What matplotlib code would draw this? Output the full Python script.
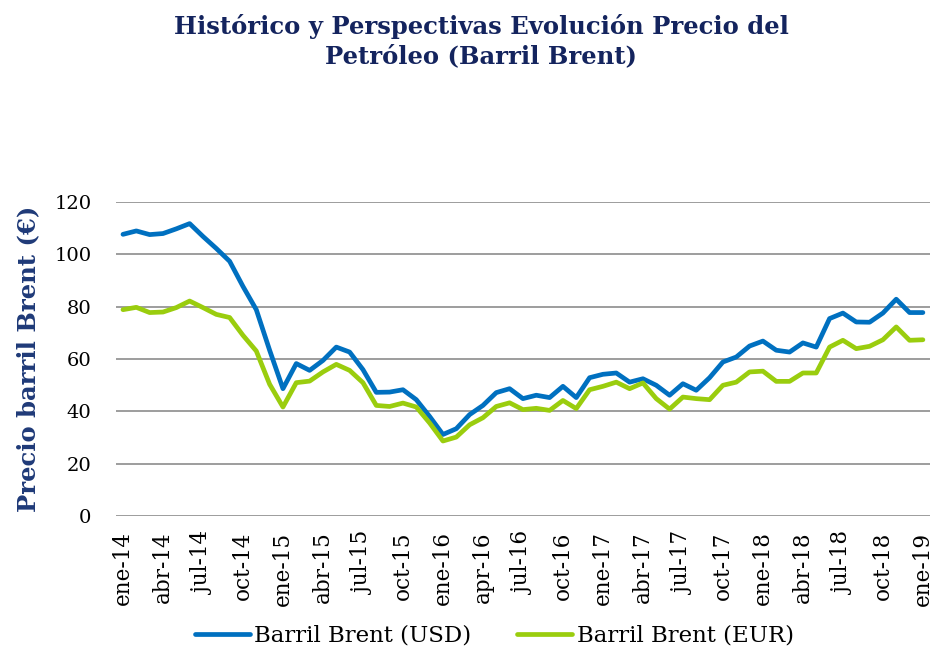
import matplotlib
matplotlib.use("Agg")
import matplotlib.pyplot as plt

# monthly values ene-14 .. ene-19 (61 months)
brent_usd = [107.7, 109.0, 107.6, 108.0, 109.8, 111.8, 106.9, 102.3, 97.4, 87.8, 78.9, 63.4,
             48.7, 58.3, 55.7, 59.5, 64.6, 62.7, 56.0, 47.3, 47.4, 48.3, 44.5, 38.1,
             31.2, 33.4, 38.8, 42.3, 47.2, 48.7, 44.9, 46.2, 45.3, 49.6, 45.3, 52.9,
             54.2, 54.7, 51.2, 52.5, 50.0, 46.2, 50.6, 48.1, 52.9, 58.9, 60.8, 65.0,
             66.9, 63.4, 62.7, 66.2, 64.6, 75.5, 77.6, 74.2, 74.1, 77.6, 82.9, 77.8,
             77.8]
brent_eur = [78.9, 79.8, 77.8, 78.0, 79.7, 82.2, 79.7, 77.1, 75.9, 69.1, 63.1, 50.4,
             41.7, 51.0, 51.6, 55.1, 58.0, 55.7, 51.0, 42.3, 41.9, 43.2, 41.7, 35.6,
             28.7, 30.2, 34.9, 37.6, 41.9, 43.3, 40.7, 41.2, 40.4, 44.2, 41.1, 48.3,
             49.6, 51.2, 48.7, 50.9, 44.9, 40.9, 45.5, 44.9, 44.5, 50.0, 51.2, 55.1,
             55.4, 51.5, 51.5, 54.7, 54.7, 64.6, 67.2, 64.0, 64.9, 67.4, 72.3, 67.2,
             67.4]
tick_labels = ["ene-14", "abr-14", "jul-14", "oct-14", "ene-15", "abr-15", "jul-15",
               "oct-15", "ene-16", "apr-16", "jul-16", "oct-16", "ene-17", "abr-17",
               "jul-17", "oct-17", "ene-18", "abr-18", "jul-18", "oct-18", "ene-19"]

BLUE = "#0070C0"
GREEN = "#9ACD0E"
NAVY = "#14245E"
YLABEL_COLOR = "#1F3A78"

plt.rcParams["font.family"] = ["DejaVu Serif"]

fig = plt.figure(figsize=(9.38, 6.5), dpi=100)
ax = fig.add_axes([0.124, 0.206, 0.867, 0.483])

months = range(len(brent_usd))
ax.plot(months, brent_usd, color=BLUE, lw=3.4, label="Barril Brent (USD)", solid_capstyle="round")
ax.plot(months, brent_eur, color=GREEN, lw=3.4, label="Barril Brent (EUR)", solid_capstyle="round")

ax.set_xlim(-0.5, len(brent_usd) - 0.5)
ax.set_ylim(0, 120)
ax.set_yticks(range(0, 121, 20))
ax.set_xticks(range(0, len(brent_usd), 3))
ax.set_xticklabels(tick_labels, rotation=90)
ax.tick_params(axis="y", length=0, pad=18, labelsize=14)
ax.tick_params(axis="x", length=0, pad=11, labelsize=15.5)
ax.yaxis.grid(True, color="#8C8C8C", lw=1.2)
ax.set_axisbelow(True)
for s in ax.spines.values():
    s.set_visible(False)

fig.text(0.03, 0.448, "Precio barril Brent (€)", rotation=90, ha="center", va="center",
         fontsize=17.5, fontweight="bold", color=YLABEL_COLOR)
fig.text(0.513, 0.937, "Histórico y Perspectivas Evolución Precio del\nPetróleo (Barril Brent)",
         ha="center", va="center", fontsize=17.5, fontweight="bold", color=NAVY, linespacing=1.3)

fig.legend(loc="center", bbox_to_anchor=(0.527, 0.022), ncol=2, frameon=False, fontsize=16.5,
           handlelength=2.4, handletextpad=0.2, columnspacing=2.0)

fig.savefig("out.png", dpi=100)
